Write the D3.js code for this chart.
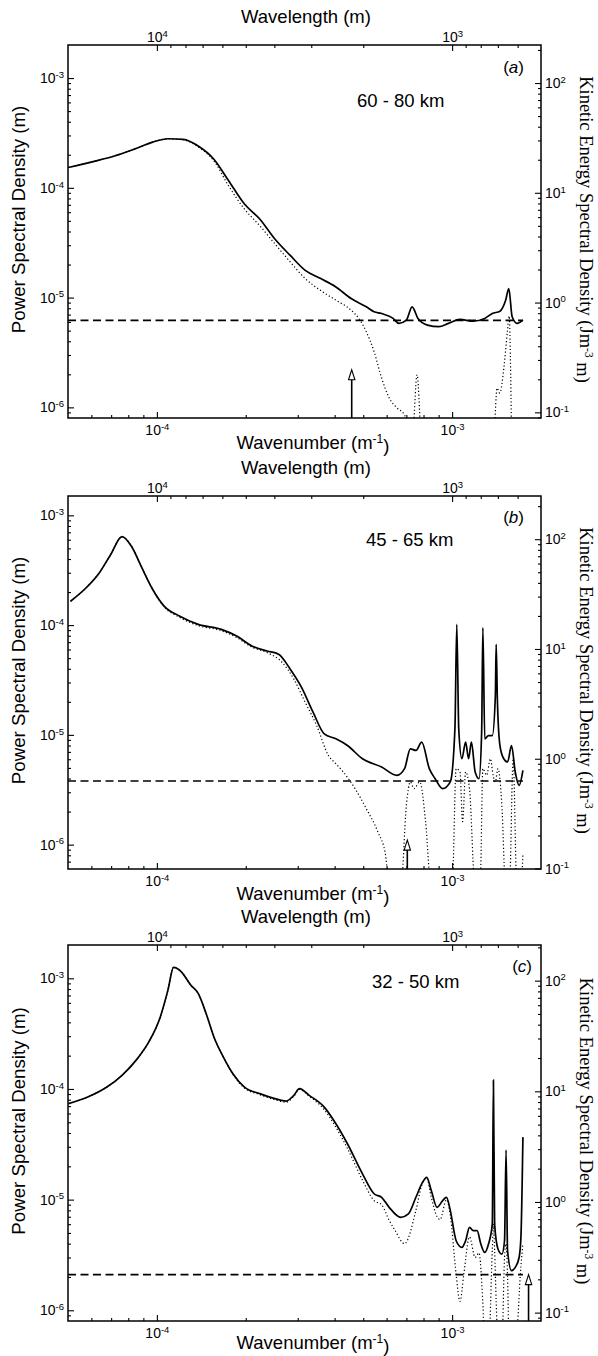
<!DOCTYPE html>
<html>
<head>
<meta charset="utf-8">
<script src="https://cdn.jsdelivr.net/npm/d3@7"></script>
<style>
  body { margin: 0; background: #fff; }
  svg text { font-family: "Liberation Sans", Arial, Helvetica, sans-serif; fill: #000; }
  svg text.serif { font-family: "Liberation Serif", "Times New Roman", serif; }
</style>
</head>
<body>
<svg id="fig" width="598" height="1356"></svg>
<script>
// wavenumber range shared by all three panels (m^-1)
var kRange = [5e-5, 2e-3];

// (a) 60 - 80 km : solid = spectrum, dotted = noise removed
var kA = [5.0e-5, 6.18e-5, 7.18e-5, 8.34e-5, 9.68e-5, 1.09e-4, 1.227e-4, 1.38e-4, 1.56e-4, 1.75e-4,
  1.98e-4, 2.23e-4, 2.51e-4, 2.83e-4, 3.18e-4, 3.59e-4, 4.04e-4, 4.55e-4, 5.12e-4, 5.44e-4,
  5.77e-4, 6.31e-4, 6.6e-4, 7.0e-4, 7.32e-4, 7.66e-4, 8.25e-4, 9.02e-4, 9.72e-4, 1.063e-3,
  1.179e-3, 1.29e-3, 1.368e-3, 1.452e-3, 1.518e-3, 1.556e-3, 1.597e-3, 1.66e-3, 1.737e-3];
var psdA = [1.53e-4, 1.75e-4, 1.95e-4, 2.24e-4, 2.61e-4, 2.80e-4, 2.76e-4, 2.40e-4, 1.82e-4, 1.16e-4,
  7.11e-5, 5.2e-5, 3.42e-5, 2.42e-5, 1.77e-5, 1.49e-5, 1.25e-5, 9.8e-6, 8.24e-6, 7.43e-6,
  7.17e-6, 6.46e-6, 5.82e-6, 6.23e-6, 8.24e-6, 6.46e-6, 5.62e-6, 5.43e-6, 5.82e-6, 6.32e-6,
  6.1e-6, 6.46e-6, 7.17e-6, 7.52e-6, 9.46e-6, 1.21e-5, 6.69e-6, 5.82e-6, 6.23e-6];
var kAdot = [5.0e-5, 6.18e-5, 7.18e-5, 8.34e-5, 9.68e-5, 1.09e-4, 1.227e-4, 1.38e-4, 1.56e-4, 1.75e-4,
  1.98e-4, 2.23e-4, 2.51e-4, 2.83e-4, 3.18e-4, 3.59e-4, 4.04e-4, 4.55e-4, 4.83e-4, 5.12e-4,
  5.44e-4, 5.77e-4, 6.12e-4, 6.5e-4, 6.9e-4, 7.32e-4, 7.61e-4, 7.89e-4, 1.38e-3, 1.42e-3,
  1.45e-3, 1.50e-3, 1.54e-3, 1.56e-3, 1.59e-3];
var psdAdot = [1.53e-4, 1.75e-4, 1.95e-4, 2.24e-4, 2.61e-4, 2.80e-4, 2.74e-4, 2.36e-4, 1.76e-4, 1.04e-4,
  6.4e-5, 4.52e-5, 3.09e-5, 2.11e-5, 1.49e-5, 1.16e-5, 9.46e-6, 7.68e-6, 6.46e-6, 4.89e-6,
  3.22e-6, 1.85e-6, 1.22e-6, 9.9e-7, 8.5e-7, 5e-7, 1.98e-6, 5e-7, 5e-7, 1.5e-6,
  1.35e-6, 2.4e-6, 5.0e-6, 6.8e-6, 5e-7];

// (b) 45 - 65 km
var kB = [5.1e-5, 5.83e-5, 6.38e-5, 6.97e-5, 7.62e-5, 8.21e-5, 8.85e-5, 9.68e-5, 1.058e-4, 1.192e-4,
  1.38e-4, 1.653e-4, 1.863e-4, 2.098e-4, 2.363e-4, 2.584e-4, 2.83e-4, 3.09e-4, 3.38e-4, 3.69e-4,
  4.04e-4, 4.42e-4, 4.97e-4, 5.77e-4, 6.5e-4, 6.9e-4, 7.22e-4, 7.54e-4, 7.89e-4, 8.37e-4,
  8.76e-4, 9.29e-4, 9.86e-4, 1.022e-3, 1.037e-3, 1.053e-3, 1.079e-3, 1.111e-3, 1.137e-3, 1.162e-3,
  1.197e-3, 1.233e-3, 1.259e-3, 1.271e-3, 1.29e-3, 1.328e-3, 1.368e-3, 1.401e-3, 1.41e-3, 1.423e-3,
  1.452e-3, 1.496e-3, 1.541e-3, 1.589e-3, 1.636e-3, 1.686e-3, 1.737e-3];
var psdB = [1.65e-4, 2.26e-4, 2.99e-4, 4.38e-4, 6.41e-4, 5.2e-4, 3.43e-4, 2.11e-4, 1.49e-4, 1.21e-4,
  1.015e-4, 9.14e-5, 7.95e-5, 6.45e-5, 5.81e-5, 5.43e-5, 3.97e-5, 2.71e-5, 1.61e-5, 1.02e-5,
  9.2e-6, 8.0e-6, 6.06e-6, 5.1e-6, 4.28e-6, 4.92e-6, 7.47e-6, 7.21e-6, 8.59e-6, 4.92e-6,
  3.99e-6, 3.24e-6, 3.73e-6, 1.13e-5, 1.015e-4, 1.13e-5, 6.06e-6, 8.59e-6, 6.06e-6, 8.59e-6,
  4.59e-6, 3.99e-6, 1.06e-5, 9.47e-5, 9.2e-6, 9.86e-6, 9.86e-6, 2.27e-5, 6.68e-5, 2.12e-5,
  8.0e-6, 6.06e-6, 5.66e-6, 8.0e-6, 4.59e-6, 3.47e-6, 4.75e-6];
var kBdot = [5.1e-5, 5.83e-5, 6.38e-5, 6.97e-5, 7.62e-5, 8.21e-5, 8.85e-5, 9.68e-5, 1.058e-4, 1.192e-4,
  1.38e-4, 1.653e-4, 1.863e-4, 2.098e-4, 2.363e-4, 2.66e-4, 2.91e-4, 3.18e-4, 3.48e-4, 3.81e-4,
  4.04e-4, 4.28e-4, 4.69e-4, 5.12e-4, 5.6e-4, 5.95e-4, 6.12e-4, 6.7e-4, 7.0e-4, 7.22e-4,
  7.43e-4, 7.77e-4, 8.13e-4, 8.5e-4, 1.0e-3, 1.032e-3, 1.063e-3, 1.085e-3, 1.111e-3, 1.145e-3,
  1.197e-3, 1.244e-3, 1.271e-3, 1.309e-3, 1.348e-3, 1.377e-3, 1.401e-3, 1.43e-3, 1.474e-3, 1.518e-3,
  1.563e-3, 1.61e-3, 1.657e-3, 1.71e-3, 1.737e-3];
var psdBdot = [1.65e-4, 2.26e-4, 2.99e-4, 4.38e-4, 6.41e-4, 5.2e-4, 3.43e-4, 2.11e-4, 1.47e-4, 1.18e-4,
  9.9e-5, 8.9e-5, 7.7e-5, 6.3e-5, 5.62e-5, 4.56e-5, 3.22e-5, 1.98e-5, 1.21e-5, 6.49e-6,
  5.46e-6, 4.59e-6, 3.24e-6, 2.13e-6, 1.31e-6, 8.05e-7, 4e-7, 4e-7, 2.29e-6, 3.73e-6,
  3.24e-6, 3.73e-6, 1.62e-6, 4e-7, 4e-7, 4.92e-6, 4.59e-6, 1.62e-6, 4.59e-6, 3.24e-6,
  4e-7, 4e-7, 4.92e-6, 4.28e-6, 6.06e-6, 4.28e-6, 3.73e-6, 4.92e-6, 2.29e-6, 4e-7,
  4e-7, 6.06e-6, 4e-7, 4e-7, 8.3e-7];

// (c) 32 - 50 km
var kC = [5.02e-5, 5.83e-5, 6.77e-5, 7.62e-5, 8.59e-5, 9.39e-5, 1.027e-4, 1.09e-4, 1.139e-4, 1.21e-4,
  1.302e-4, 1.38e-4, 1.468e-4, 1.56e-4, 1.678e-4, 1.807e-4, 1.98e-4, 2.23e-4, 2.51e-4, 2.74e-4,
  2.91e-4, 3.04e-4, 3.28e-4, 3.69e-4, 4.04e-4, 4.42e-4, 4.97e-4, 5.44e-4, 5.77e-4, 6.12e-4,
  6.7e-4, 7.11e-4, 7.54e-4, 7.89e-4, 8.2e-4, 8.5e-4, 8.89e-4, 9.29e-4, 9.57e-4, 9.86e-4,
  1.032e-3, 1.079e-3, 1.111e-3, 1.145e-3, 1.179e-3, 1.215e-3, 1.251e-3, 1.29e-3, 1.328e-3, 1.368e-3,
  1.38e-3, 1.393e-3, 1.43e-3, 1.474e-3, 1.505e-3, 1.523e-3, 1.541e-3, 1.589e-3, 1.636e-3, 1.686e-3,
  1.71e-3, 1.737e-3];
var psdC = [7.37e-5, 8.45e-5, 1.04e-4, 1.33e-4, 1.88e-4, 2.66e-4, 4.48e-4, 7.82e-4, 1.256e-3, 1.146e-3,
  8.69e-4, 7.3e-4, 4.81e-4, 2.95e-4, 1.95e-4, 1.38e-4, 1.04e-4, 9.07e-5, 8.18e-5, 7.78e-5,
  8.76e-5, 1.007e-4, 8.76e-5, 6.86e-5, 4.85e-5, 3.2e-5, 1.71e-5, 1.13e-5, 1.05e-5, 8.52e-6,
  6.92e-6, 7.43e-6, 1.05e-5, 1.39e-5, 1.59e-5, 1.21e-5, 8.52e-6, 9.8e-6, 1.05e-5, 7.96e-6,
  4.25e-6, 3.7e-6, 4.25e-6, 5.62e-6, 5.24e-6, 5.24e-6, 3.97e-6, 3.33e-6, 3.97e-6, 6.03e-6,
  1.2e-4, 6.03e-6, 3.58e-6, 3.22e-6, 4.25e-6, 2.8e-5, 3.45e-6, 2.28e-6, 2.44e-6, 3.0e-6,
  4.56e-6, 3.67e-5];
var kCdot = [5.02e-5, 5.83e-5, 6.77e-5, 7.62e-5, 8.59e-5, 9.39e-5, 1.027e-4, 1.09e-4, 1.139e-4, 1.21e-4,
  1.302e-4, 1.38e-4, 1.468e-4, 1.56e-4, 1.678e-4, 1.807e-4, 1.98e-4, 2.23e-4, 2.51e-4, 2.74e-4,
  2.91e-4, 3.04e-4, 3.28e-4, 3.69e-4, 4.04e-4, 4.42e-4, 4.97e-4, 5.44e-4, 5.77e-4, 6.12e-4,
  6.4e-4, 6.9e-4, 7.54e-4, 7.89e-4, 8.2e-4, 8.5e-4, 8.89e-4, 9.1e-4, 9.57e-4, 9.86e-4,
  1.032e-3, 1.063e-3, 1.095e-3, 1.145e-3, 1.197e-3, 1.233e-3, 1.27e-3, 1.29e-3, 1.33e-3, 1.368e-3,
  1.38e-3, 1.393e-3, 1.41e-3, 1.43e-3, 1.474e-3, 1.505e-3, 1.523e-3, 1.541e-3, 1.56e-3, 1.64e-3,
  1.71e-3, 1.737e-3];
var psdCdot = [7.37e-5, 8.45e-5, 1.04e-4, 1.33e-4, 1.88e-4, 2.66e-4, 4.48e-4, 7.82e-4, 1.256e-3, 1.146e-3,
  8.69e-4, 7.3e-4, 4.81e-4, 2.95e-4, 1.95e-4, 1.36e-4, 1.02e-4, 8.9e-5, 8.0e-5, 7.6e-5,
  8.6e-5, 9.9e-5, 8.6e-5, 6.5e-5, 4.5e-5, 2.9e-5, 1.5e-5, 9.8e-6, 9.0e-6, 6.5e-6,
  5.3e-6, 4.0e-6, 8.0e-6, 1.35e-5, 1.57e-5, 1.05e-5, 7.0e-6, 6.6e-6, 1.0e-5, 7.2e-6,
  2.1e-6, 1.2e-6, 2.1e-6, 4.6e-6, 3.0e-6, 3.3e-6, 1.2e-6, 5e-7, 5e-7, 3.5e-6,
  6e-6, 3.5e-6, 1.2e-6, 5e-7, 5e-7, 3.0e-6, 4.0e-6, 2.0e-6, 5e-7, 5e-7,
  2.5e-6, 4e-6];

// noise level (dashed), arrow wavenumber and arrow tip, per panel a, b, c
var noiseLevel = [6.2e-6, 3.8e-6, 2.1e-6];
var arrowK = [4.57e-4, 7.05e-4, 1.815e-3];
var arrowTip = [2.2e-6, 1.1e-6, 2.1e-6];
// y range of each panel (m) and PSD -> kinetic energy factor for the right axis
var psdRange = [[8e-7, 2e-3], [6e-7, 1.5e-3], [8e-7, 2e-3]];
var keFactor = [1.11e5, 1.65e5, 1.05e5];
var tags = ["a", "b", "c"];
var heights = ["60 - 80 km", "45 - 65 km", "32 - 50 km"];

var svg = d3.select("#fig");
var left = 68, right = 541;

var layout = [
  {top: 45, bottom: 418, tagY: 73, tagX: 524, hX: 357, hY: 107, wnY: 31},
  {top: 496, bottom: 869, tagY: 523, tagX: 524, hX: 366, hY: 546, wnY: 31},
  {top: 945, bottom: 1321, tagY: 972, tagX: 532, hX: 372, hY: 988, wnY: 28}
];
var series = [
  {k: kA, p: psdA, kd: kAdot, pd: psdAdot},
  {k: kB, p: psdB, kd: kBdot, pd: psdBdot},
  {k: kC, p: psdC, kd: kCdot, pd: psdCdot}
];

var x = d3.scaleLog().domain(kRange).range([left, right]);
var xLam = d3.scaleLog().domain([1 / kRange[0], 1 / kRange[1]]).range([left, right]);

function minors(lo, hi) {
  var out = [];
  for (var e = Math.floor(Math.log10(lo)) - 1; e <= Math.ceil(Math.log10(hi)); e++) {
    for (var m = 2; m <= 9; m++) {
      var v = m * Math.pow(10, e);
      if (v > lo * 1.0001 && v < hi * 0.9999) out.push(v);
    }
  }
  return out;
}
function decades(lo, hi) {
  var out = [];
  for (var e = Math.ceil(Math.log10(lo)); e <= Math.floor(Math.log10(hi)); e++) out.push(Math.pow(10, e));
  return out;
}
function powLabels(g) {
  g.selectAll(".tick text").each(function (d) {
    var e = Math.round(Math.log10(d));
    var t = d3.select(this).text(null).attr("font-size", 14);
    t.append("tspan").text("10");
    t.append("tspan").attr("dy", "-0.55em").attr("font-size", 9.5).text(e);
  });
}
function clean(g) {
  g.select(".domain").remove();
  g.selectAll(".tick line").attr("stroke", "#000").attr("stroke-width", 1.1);
}

layout.forEach(function (L, i) {
  var S = series[i];
  var y = d3.scaleLog().domain(psdRange[i]).range([L.bottom, L.top]);
  var yKE = d3.scaleLog().domain([psdRange[i][0] * keFactor[i], psdRange[i][1] * keFactor[i]]).range([L.bottom, L.top]);
  var g = svg.append("g");

  var clipId = "clip" + i;
  svg.append("clipPath").attr("id", clipId).append("rect")
    .attr("x", left).attr("y", L.top).attr("width", right - left).attr("height", L.bottom - L.top);

  var line = d3.line().x(function (d) { return x(d[0]); }).y(function (d) { return y(d[1]); })
    .curve(d3.curveMonotoneX);
  var plot = g.append("g").attr("clip-path", "url(#" + clipId + ")");

  plot.append("path").datum(d3.zip(S.kd, S.pd)).attr("d", line)
    .attr("fill", "none").attr("stroke", "#000").attr("stroke-width", 1.2)
    .attr("stroke-dasharray", "1.2,2.3");
  plot.append("path").datum([[kRange[0], noiseLevel[i]], [S.k[S.k.length - 1], noiseLevel[i]]]).attr("d", line)
    .attr("fill", "none").attr("stroke", "#000").attr("stroke-width", 1.6)
    .attr("stroke-dasharray", "8,4.5");
  plot.append("path").datum(d3.zip(S.k, S.p)).attr("d", line)
    .attr("fill", "none").attr("stroke", "#000").attr("stroke-width", 1.7);

  // arrow marking the cut-off wavenumber
  var ax = x(arrowK[i]), ay = y(arrowTip[i]);
  g.append("line").attr("x1", ax).attr("x2", ax).attr("y1", L.bottom).attr("y2", ay + 9)
    .attr("stroke", "#000").attr("stroke-width", 1.6);
  g.append("path").attr("d", "M" + ax + "," + ay + "l-3.2,10h6.4z")
    .attr("fill", "#fff").attr("stroke", "#000").attr("stroke-width", 1.1);

  // axes: ticks point inward
  var lg = g.append("g").attr("transform", "translate(" + left + ",0)")
    .call(d3.axisLeft(y).tickValues(decades(psdRange[i][0], psdRange[i][1])).tickSizeInner(-6).tickSizeOuter(0).tickPadding(4));
  clean(lg); powLabels(lg);
  var lm = g.append("g").attr("transform", "translate(" + left + ",0)")
    .call(d3.axisLeft(y).tickValues(minors(psdRange[i][0], psdRange[i][1])).tickSizeInner(-3).tickSizeOuter(0).tickFormat(""));
  clean(lm);

  var keR = yKE.domain();
  var rg = g.append("g").attr("transform", "translate(" + right + ",0)")
    .call(d3.axisRight(yKE).tickValues(decades(keR[0], keR[1])).tickSizeInner(-6).tickSizeOuter(0).tickPadding(4));
  clean(rg); powLabels(rg);
  var rm = g.append("g").attr("transform", "translate(" + right + ",0)")
    .call(d3.axisRight(yKE).tickValues(minors(keR[0], keR[1])).tickSizeInner(-3).tickSizeOuter(0).tickFormat(""));
  clean(rm);

  var bg = g.append("g").attr("transform", "translate(0," + L.bottom + ")")
    .call(d3.axisBottom(x).tickValues(decades(kRange[0], kRange[1])).tickSizeInner(-6).tickSizeOuter(0).tickPadding(7));
  clean(bg); powLabels(bg);
  var bm = g.append("g").attr("transform", "translate(0," + L.bottom + ")")
    .call(d3.axisBottom(x).tickValues(minors(kRange[0], kRange[1])).tickSizeInner(-3).tickSizeOuter(0).tickFormat(""));
  clean(bm);

  var lamR = [1 / kRange[1], 1 / kRange[0]];
  var tg = g.append("g").attr("transform", "translate(0," + L.top + ")")
    .call(d3.axisTop(xLam).tickValues(decades(lamR[0], lamR[1])).tickSizeInner(-6).tickSizeOuter(0).tickPadding(3));
  clean(tg); powLabels(tg);
  var tm = g.append("g").attr("transform", "translate(0," + L.top + ")")
    .call(d3.axisTop(xLam).tickValues(minors(lamR[0], lamR[1])).tickSizeInner(-3).tickSizeOuter(0).tickFormat(""));
  clean(tm);

  g.append("rect").attr("x", left).attr("y", L.top).attr("width", right - left).attr("height", L.bottom - L.top)
    .attr("fill", "none").attr("stroke", "#000").attr("stroke-width", 1.5);

  // titles
  g.append("text").attr("x", 306).attr("y", L.top - 22).attr("text-anchor", "middle")
    .attr("font-size", 18.5).text("Wavelength (m)");
  var wn = g.append("text").attr("x", 313).attr("y", L.bottom + L.wnY).attr("text-anchor", "middle").attr("font-size", 18.5);
  wn.append("tspan").text("Wavenumber (m");
  wn.append("tspan").attr("dy", "-0.5em").attr("font-size", 12).text("-1");
  wn.append("tspan").attr("dy", "0.5em").text(")");

  var midY = (L.top + L.bottom) / 2;
  g.append("text").attr("transform", "translate(25," + (midY - 12) + ") rotate(-90)")
    .attr("text-anchor", "middle").attr("font-size", 18.7).text("Power Spectral Density (m)");
  var ke = g.append("text").attr("class", "serif").attr("transform", "translate(580," + (midY - 2) + ") rotate(90)")
    .attr("text-anchor", "middle").attr("font-size", 18.5);
  ke.append("tspan").text("Kinetic Energy Spectral Density (Jm");
  ke.append("tspan").attr("dy", "-0.45em").attr("font-size", 11.5).text("-3");
  ke.append("tspan").attr("dy", "0.45em").text(" m)");

  var tag = g.append("text").attr("x", L.tagX).attr("y", L.tagY).attr("text-anchor", "end").attr("font-size", 17);
  tag.append("tspan").text("(");
  tag.append("tspan").attr("font-style", "italic").text(tags[i]);
  tag.append("tspan").text(")");
  g.append("text").attr("x", L.hX).attr("y", L.hY).attr("font-size", 18.5).text(heights[i]);
});
</script>
</body>
</html>
